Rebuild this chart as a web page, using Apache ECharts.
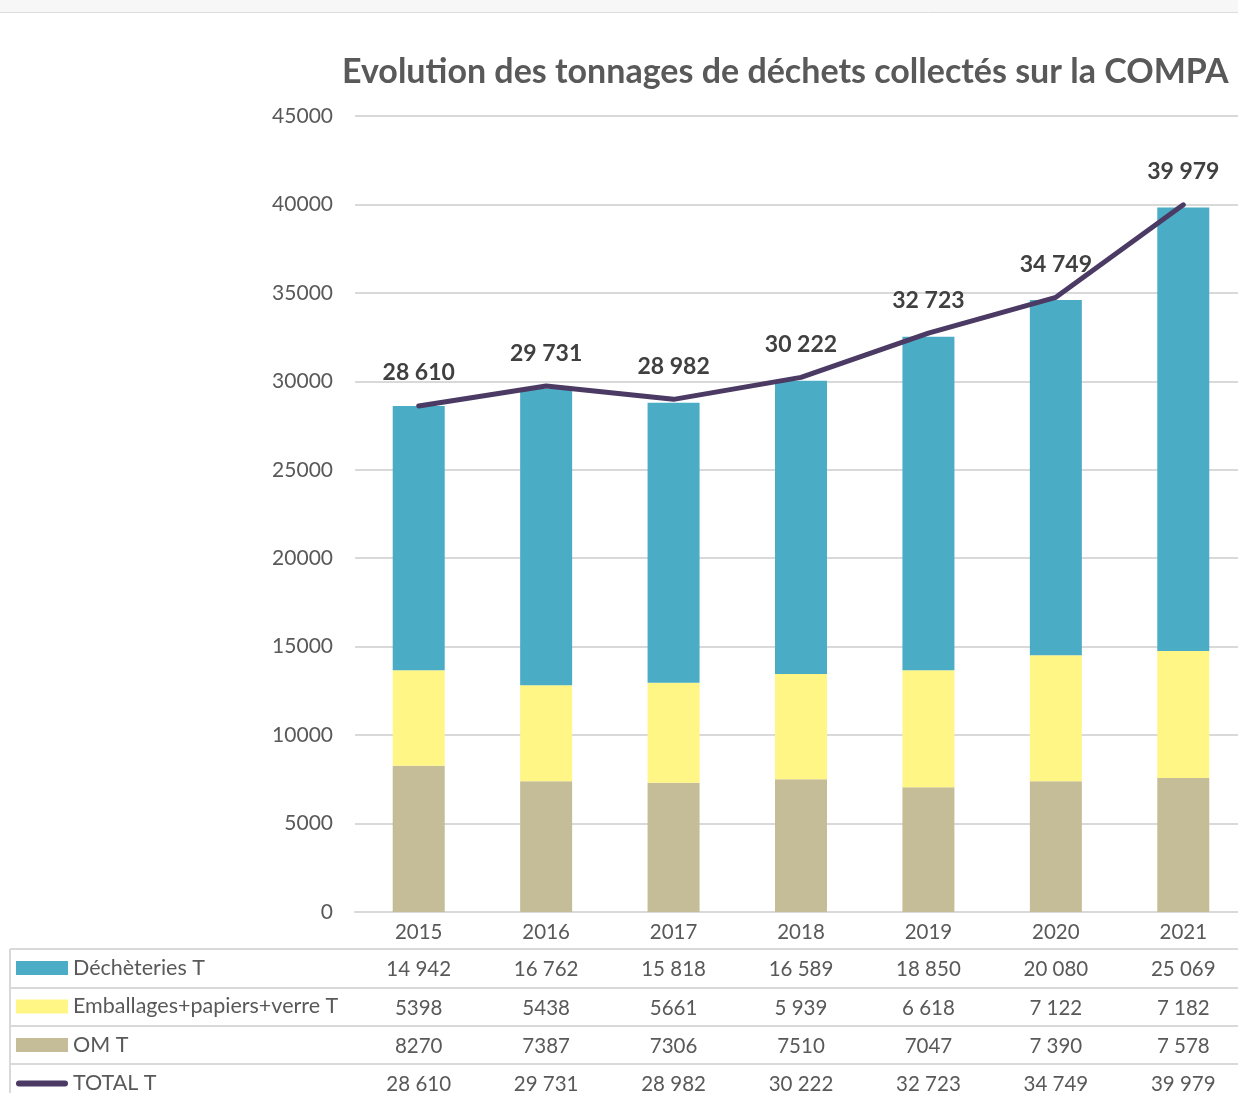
<!DOCTYPE html>
<html>
<head>
<meta charset="utf-8">
<script src="https://cdn.jsdelivr.net/npm/echarts@6/dist/echarts.min.js"></script>
<style>
  html, body { margin: 0; padding: 0; background: #fff; }
  #chart { width: 1238px; height: 1093px; }
</style>
</head>
<body>
<div id="chart"></div>
<script>
// données (tonnes)
const years = ['2015', '2016', '2017', '2018', '2019', '2020', '2021'];
const decheteries = [14942, 16762, 15818, 16589, 18850, 20080, 25069];
const emballages = [5398, 5438, 5661, 5939, 6618, 7122, 7182];
const om = [8270, 7387, 7306, 7510, 7047, 7390, 7578];
const total = [28610, 29731, 28982, 30222, 32723, 34749, 39979];

// libellés du tableau, tels qu'affichés
const decheteriesLabels = ['14 942', '16 762', '15 818', '16 589', '18 850', '20 080', '25 069'];
const emballagesLabels = ['5398', '5438', '5661', '5 939', '6 618', '7 122', '7 182'];
const omLabels = ['8270', '7387', '7306', '7510', '7047', '7 390', '7 578'];
const totalLabels = ['28 610', '29 731', '28 982', '30 222', '32 723', '34 749', '39 979'];

const yTicks = { min: 0, max: 45000, interval: 5000 };

const FONT = 'Lato, "Open Sans", sans-serif';
const GRID_COLOR = '#d9d9d9';
const TEXT = '#595959';
const LINE_COLOR = '#4b3a63';

const fmt = v => String(v).replace(/\B(?=(\d{3})+(?!\d))/g, ' ');

const chartDom = document.getElementById('chart');
const myChart = echarts.init(chartDom);

// axes "tableau" : une ligne du tableau par axe
const tableRows = [decheteriesLabels, emballagesLabels, omLabels, totalLabels];
const rowOffsets = [37, 76, 114, 152];
const tableAxes = tableRows.map((labels, i) => ({
  type: 'category',
  position: 'bottom',
  offset: rowOffsets[i],
  data: labels,
  axisLine: { show: false },
  axisTick: { show: false },
  axisLabel: { color: TEXT, fontSize: 20.5, fontFamily: FONT, margin: 10, interval: 0 }
}));

const option = {
  backgroundColor: '#fff',
  animation: false,
  title: {
    text: 'Evolution des tonnages de déchets collectés sur la COMPA',
    left: 337,
    top: 50,
    textStyle: { color: TEXT, fontSize: 34, fontWeight: 'bold', fontFamily: FONT }
  },
  legend: {
    orient: 'vertical',
    left: 16,
    top: 957,
    padding: 0,
    height: 200,
    itemWidth: 52,
    itemHeight: 14,
    itemGap: 16.5,
    icon: 'rect',
    data: [
      'Déchèteries T',
      'Emballages+papiers+verre T',
      'OM T',
      { name: 'TOTAL T', icon: 'path://M3,0 L49,0 A3,3 0 0 1 49,6 L3,6 A3,3 0 0 1 3,0 Z' }
    ],
    textStyle: { color: TEXT, fontSize: 21.5, fontFamily: FONT, lineHeight: 22 },
    selectedMode: false
  },
  grid: { left: 355, top: 116, width: 892, bottom: 181, outerBoundsMode: 'none' },
  xAxis: [
    {
      type: 'category',
      data: years,
      axisLine: { lineStyle: { color: GRID_COLOR, width: 2 } },
      axisTick: { length: 181, lineStyle: { color: GRID_COLOR, width: 2 } },
      axisLabel: { color: TEXT, fontSize: 20.5, fontFamily: FONT, margin: 10 }
    },
    ...tableAxes
  ],
  yAxis: {
    type: 'value',
    min: yTicks.min,
    max: yTicks.max,
    interval: yTicks.interval,
    axisLine: { show: false },
    axisTick: { show: false },
    splitLine: { lineStyle: { color: GRID_COLOR, width: 2 } },
    axisLabel: { color: TEXT, fontSize: 21, fontFamily: FONT, margin: 22, formatter: v => String(v) }
  },
  graphic: [
    { type: 'rect', shape: { x: 0, y: 0, width: 1238, height: 12 }, style: { fill: '#f7f7f7' }, silent: true },
    { type: 'line', shape: { x1: 0, y1: 12.5, x2: 1238, y2: 12.5 }, style: { stroke: '#dcdcdc', lineWidth: 1 }, silent: true },
    { type: 'line', shape: { x1: 10, y1: 949, x2: 1238, y2: 949 }, style: { stroke: GRID_COLOR, lineWidth: 2 }, silent: true },
    { type: 'line', shape: { x1: 10, y1: 988, x2: 1238, y2: 988 }, style: { stroke: GRID_COLOR, lineWidth: 2 }, silent: true },
    { type: 'line', shape: { x1: 10, y1: 1026, x2: 1238, y2: 1026 }, style: { stroke: GRID_COLOR, lineWidth: 2 }, silent: true },
    { type: 'line', shape: { x1: 10, y1: 1064, x2: 1238, y2: 1064 }, style: { stroke: GRID_COLOR, lineWidth: 2 }, silent: true },
    { type: 'line', shape: { x1: 10, y1: 949, x2: 10, y2: 1093 }, style: { stroke: GRID_COLOR, lineWidth: 2 }, silent: true }
  ],
  series: [
    {
      name: 'OM T', type: 'bar', stack: 'tonnes', data: om, barWidth: 52,
      itemStyle: { color: '#c4bd97' }
    },
    {
      name: 'Emballages+papiers+verre T', type: 'bar', stack: 'tonnes', data: emballages, barWidth: 52,
      itemStyle: { color: '#fff685' }
    },
    {
      name: 'Déchèteries T', type: 'bar', stack: 'tonnes', data: decheteries, barWidth: 52,
      itemStyle: { color: '#4bacc6' }
    },
    {
      name: 'TOTAL T', type: 'line', data: total, z: 5,
      symbol: 'circle', symbolSize: 1, showSymbol: true,
      lineStyle: { color: LINE_COLOR, width: 5, cap: 'round' },
      itemStyle: { color: LINE_COLOR },
      label: {
        show: true, position: 'top', distance: 21,
        formatter: p => fmt(p.value),
        color: '#404040', fontSize: 23, fontWeight: 'bold', fontFamily: FONT
      }
    }
  ]
};

option && myChart.setOption(option);
</script>
</body>
</html>
